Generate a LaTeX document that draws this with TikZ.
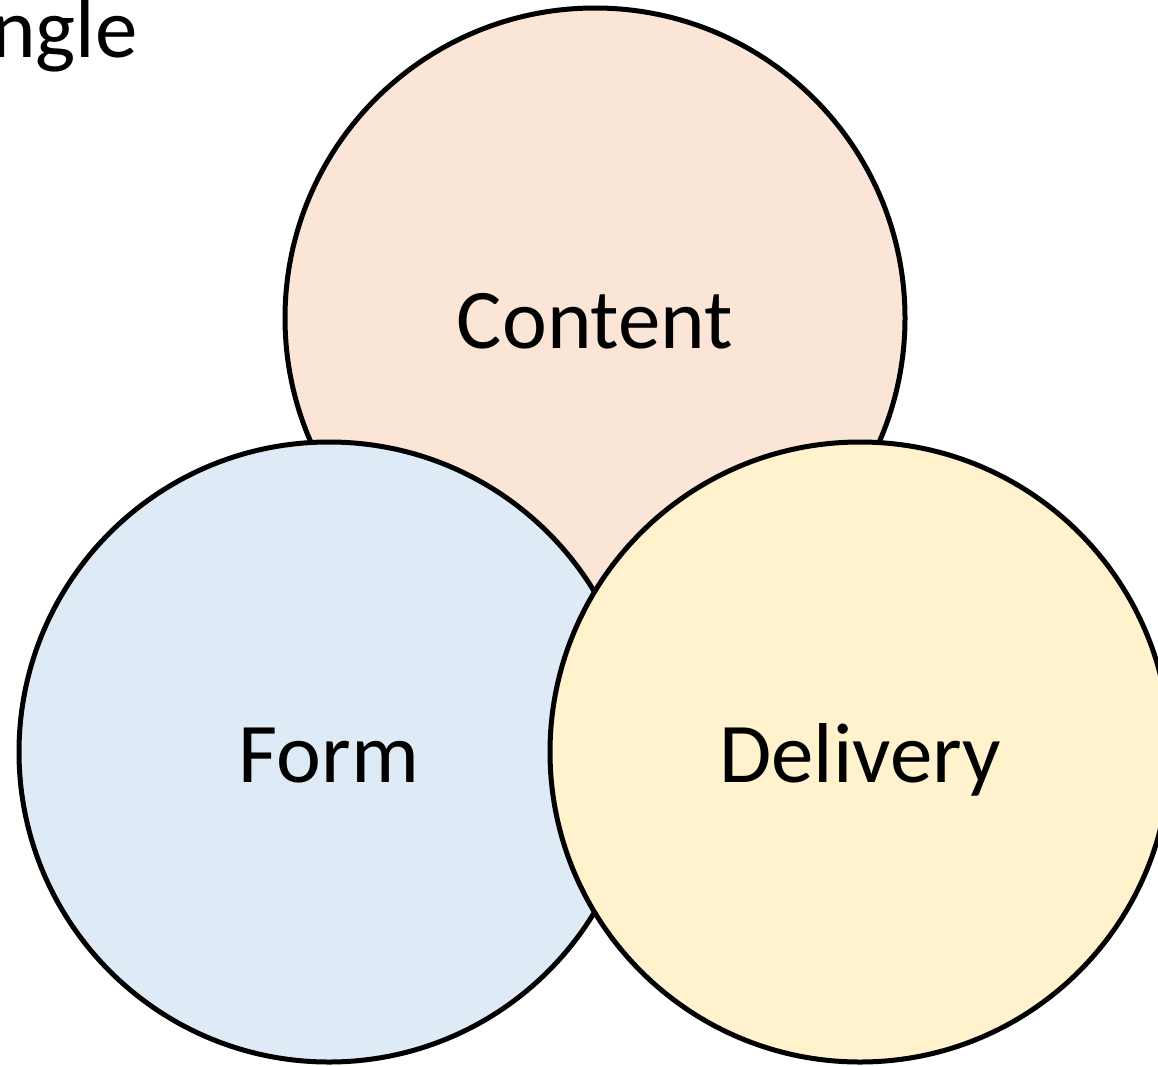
\documentclass[tikz,border=0pt]{standalone}
\usepackage{fontspec}
\setmainfont{Carlito}
\definecolor{contentfill}{HTML}{FBE5D6}
\definecolor{formfill}{HTML}{DEEBF7}
\definecolor{deliveryfill}{HTML}{FFF2CC}
\tikzset{
  venn/.style={circle, draw=black, line width=5pt, minimum size=620pt, inner sep=0pt},
  lbl/.style={font=\fontsize{85}{100}\selectfont, text=black}
}
\begin{document}
\begin{tikzpicture}[x=1pt,y=-1pt]
\useasboundingbox (0,0) rectangle (1158,1065);
\clip (0,0) rectangle (1158,1065);
\node[venn, fill=contentfill] (content) at (595,318) {};
\node[venn, fill=formfill] (form) at (329,752) {};
\node[venn, fill=deliveryfill] (delivery) at (860,752) {};
\node[lbl, anchor=base] (tcontent) at (595,348) {Content};
\node[lbl, anchor=base] (tform) at (329,782) {Form};
\node[lbl, anchor=base] (tdelivery) at (860,782) {Delivery};
\node[lbl, anchor=base east, inner sep=0pt] (ttitle) at (138,58) {ngle};
\end{tikzpicture}
\end{document}
